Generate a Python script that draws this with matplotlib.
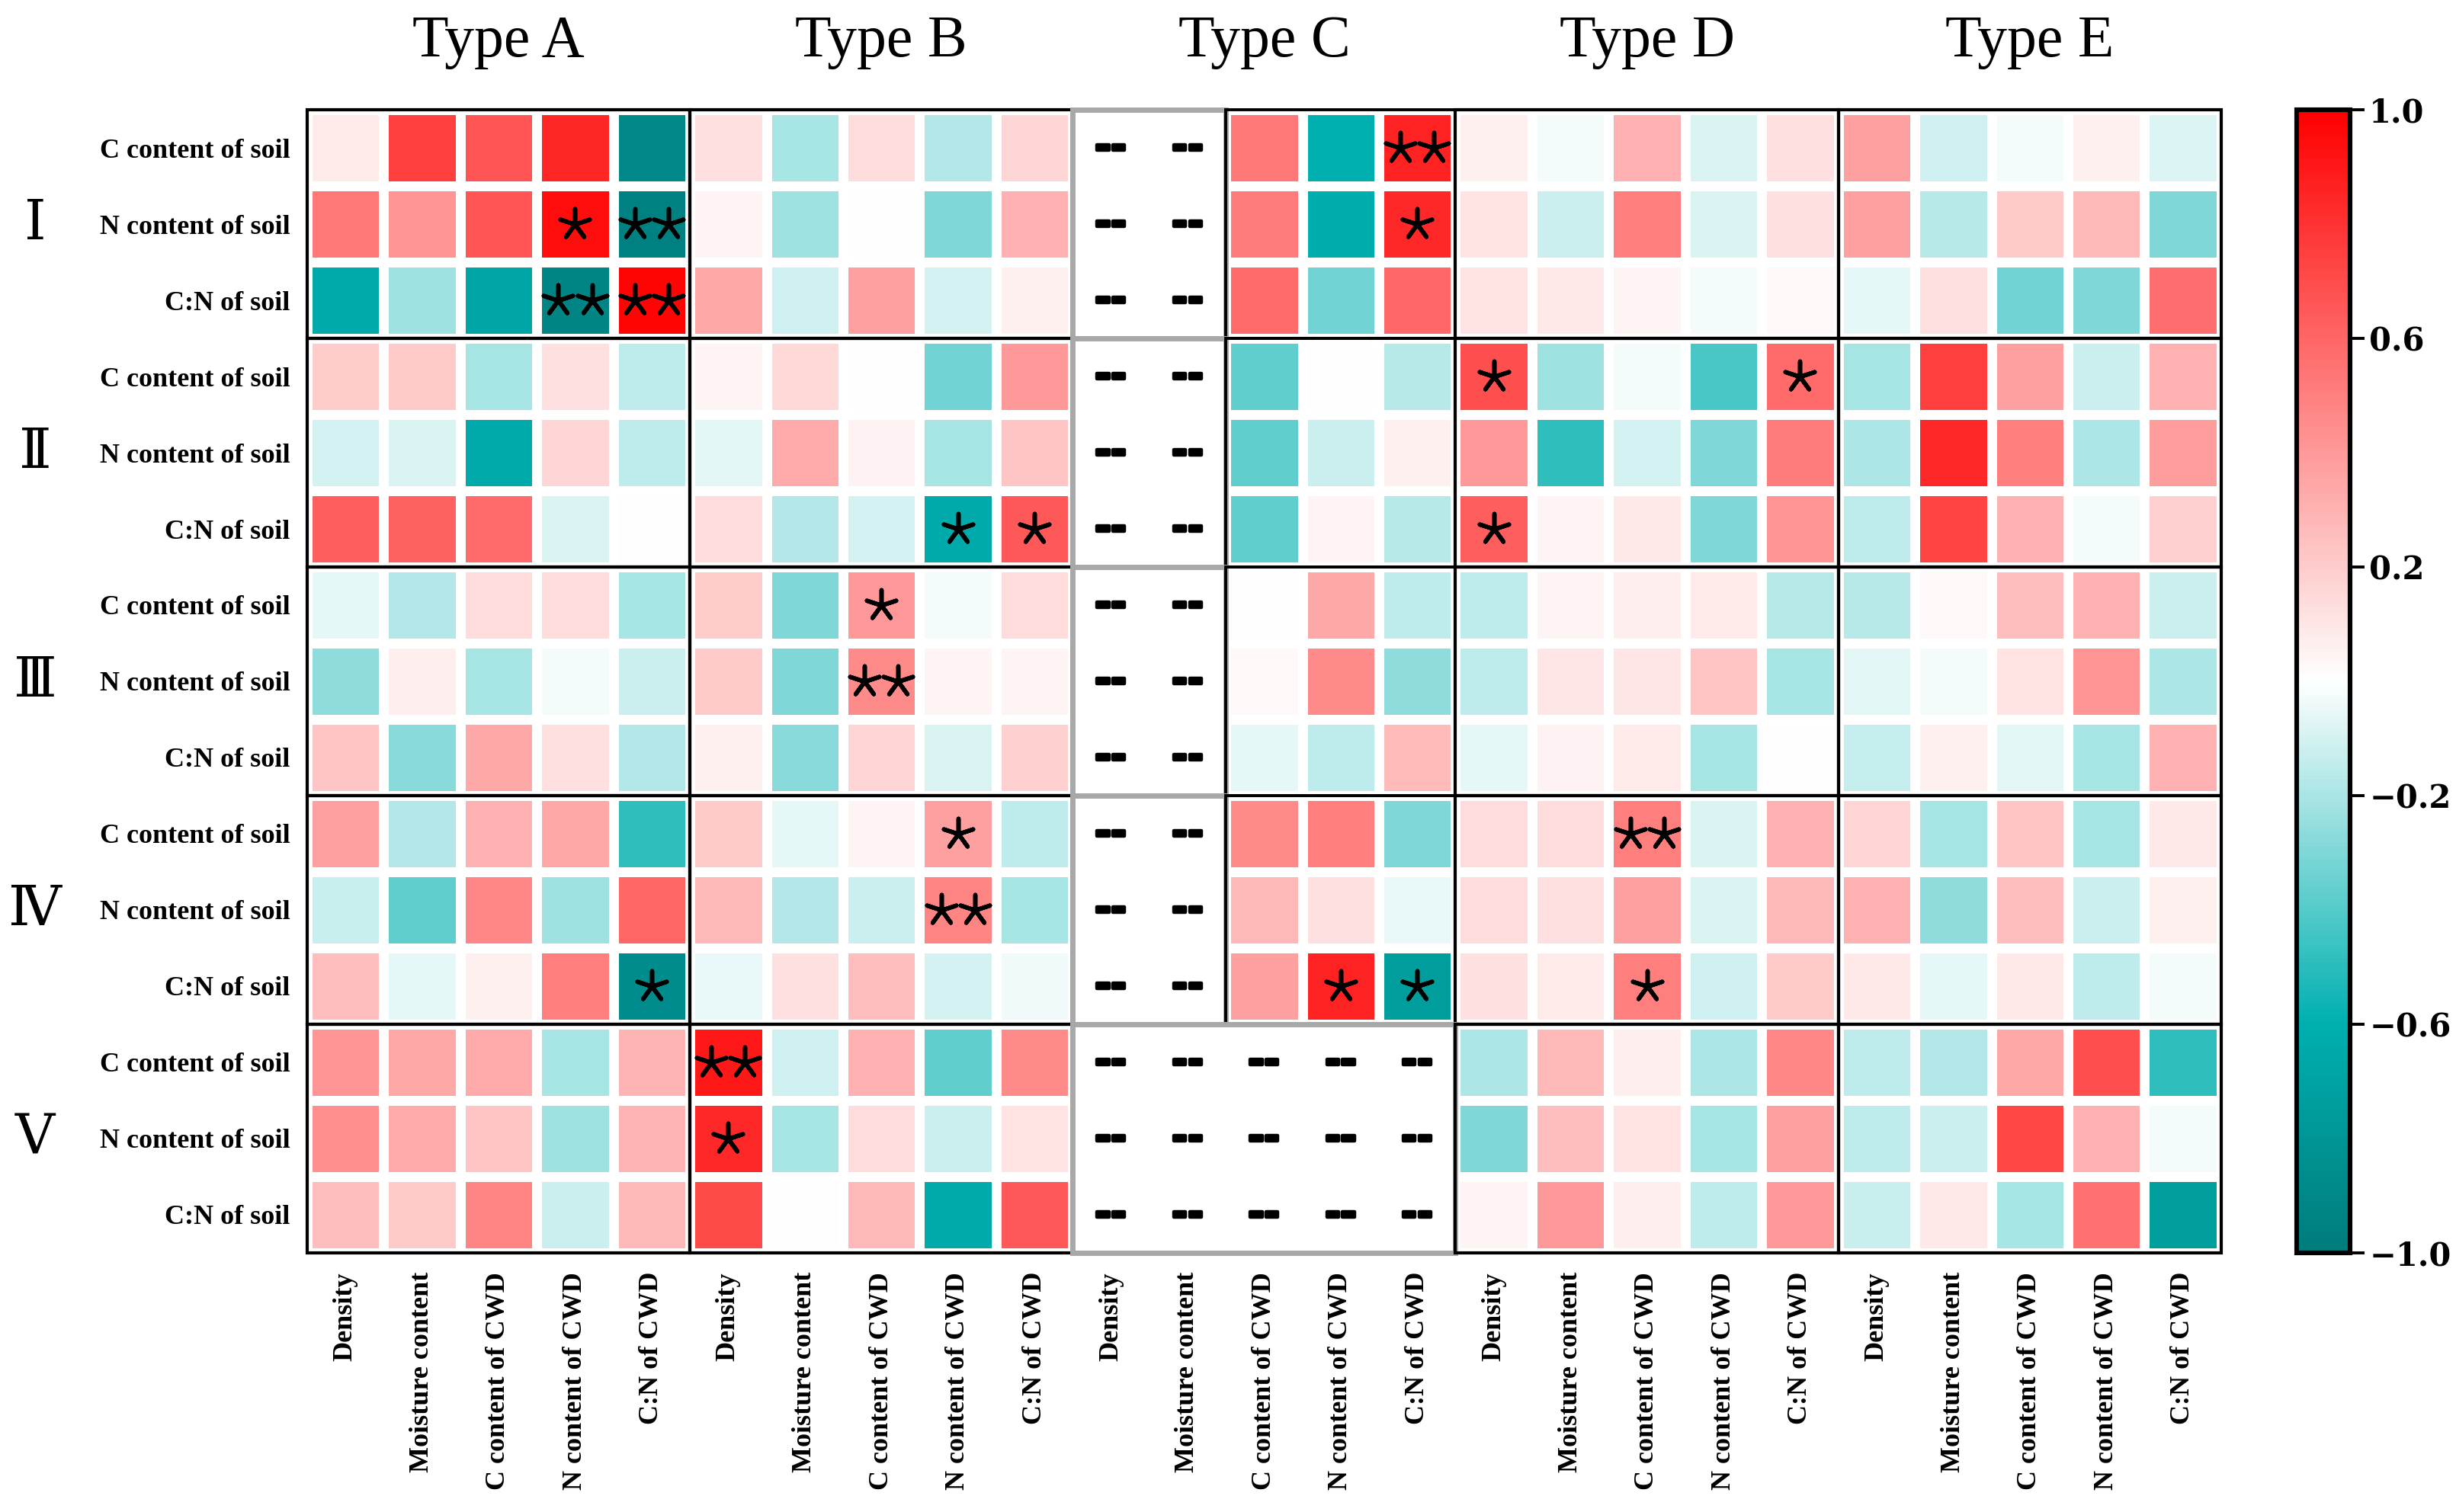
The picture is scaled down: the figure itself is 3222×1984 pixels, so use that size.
import numpy as np
import matplotlib
matplotlib.use("Agg")
import matplotlib.pyplot as plt
import matplotlib.patheffects as pe
from matplotlib.colors import LinearSegmentedColormap
from matplotlib.patches import Rectangle
from matplotlib.ticker import FuncFormatter

nan = np.nan

types = ["Type A", "Type B", "Type C", "Type D", "Type E"]
groups = ["Ⅰ", "Ⅱ", "Ⅲ", "Ⅳ", "Ⅴ"]
soil_rows = ["C content of soil", "N content of soil", "C:N of soil"]
cwd_cols = ["Density", "Moisture content", "C content of CWD",
            "N content of CWD", "C:N of CWD"]

# correlation coefficients, one block per group (rows = soil_rows,
# columns = Type A..E x cwd_cols), nan = not measured ("--")
group_I = [
    [0.08, 0.75, 0.67, 0.85, -0.90,  0.12, -0.205, 0.14, -0.175, 0.16,
     nan, nan, 0.53, -0.60, 0.86,  0.06, -0.03, 0.31, -0.09, 0.12,
     0.37, -0.11, -0.03, 0.06, -0.08],
    [0.53, 0.42, 0.67, 0.95, -0.96,  0.04, -0.23, 0.0, -0.30, 0.31,
     nan, nan, 0.51, -0.62, 0.84,  0.11, -0.12, 0.50, -0.09, 0.12,
     0.37, -0.17, 0.21, 0.28, -0.30],
    [-0.645, -0.23, -0.68, -0.93, 0.98,  0.34, -0.11, 0.37, -0.095, 0.06,
     nan, nan, 0.58, -0.335, 0.59,  0.11, 0.09, 0.04, -0.03, 0.03,
     -0.06, 0.12, -0.335, -0.30, 0.57],
]
group_II = [
    [0.20, 0.21, -0.205, 0.12, -0.155,  0.04, 0.15, 0.0, -0.335, 0.40,
     nan, nan, -0.375, 0.0, -0.17,  0.69, -0.23, -0.03, -0.425, 0.58,
     -0.205, 0.75, 0.37, -0.12, 0.31],
    [-0.10, -0.09, -0.645, 0.16, -0.155,  -0.07, 0.33, 0.05, -0.205, 0.23,
     nan, nan, -0.375, -0.12, 0.06,  0.40, -0.49, -0.10, -0.30, 0.51,
     -0.19, 0.84, 0.50, -0.19, 0.39],
    [0.63, 0.62, 0.58, -0.09, 0.0,  0.14, -0.175, -0.10, -0.645, 0.65,
     nan, nan, -0.375, 0.04, -0.17,  0.63, 0.04, 0.09, -0.30, 0.42,
     -0.155, 0.73, 0.31, -0.03, 0.18],
]
group_III = [
    [-0.055, -0.175, 0.14, 0.14, -0.205,  0.20, -0.30, 0.40, -0.03, 0.14,
     nan, nan, 0.0, 0.34, -0.15,  -0.15, 0.04, 0.07, 0.08, -0.17,
     -0.17, 0.03, 0.25, 0.31, -0.12],
    [-0.265, 0.07, -0.205, -0.03, -0.12,  0.21, -0.30, 0.46, 0.04, 0.04,
     nan, nan, 0.03, 0.46, -0.265,  -0.155, 0.10, 0.10, 0.23, -0.205,
     -0.07, -0.03, 0.11, 0.42, -0.19],
    [0.23, -0.28, 0.34, 0.12, -0.175,  0.06, -0.28, 0.17, -0.09, 0.18,
     nan, nan, -0.055, -0.15, 0.27,  -0.055, 0.05, 0.08, -0.205, 0.0,
     -0.14, 0.06, -0.07, -0.205, 0.31],
]
group_IV = [
    [0.37, -0.175, 0.31, 0.34, -0.49,  0.21, -0.055, 0.04, 0.37, -0.155,
     nan, nan, 0.46, 0.50, -0.30,  0.14, 0.14, 0.50, -0.09, 0.31,
     0.17, -0.205, 0.23, -0.205, 0.09],
    [-0.13, -0.375, 0.47, -0.23, 0.60,  0.28, -0.175, -0.12, 0.48, -0.205,
     nan, nan, 0.28, 0.12, -0.05,  0.14, 0.12, 0.37, -0.09, 0.28,
     0.31, -0.265, 0.25, -0.12, 0.06],
    [0.25, -0.055, 0.06, 0.50, -0.87,  -0.05, 0.12, 0.25, -0.10, -0.035,
     nan, nan, 0.37, 0.86, -0.75,  0.12, 0.08, 0.50, -0.11, 0.21,
     0.09, -0.055, 0.09, -0.155, -0.03],
]
group_V = [
    [0.42, 0.34, 0.33, -0.205, 0.29,  0.90, -0.11, 0.31, -0.375, 0.46,
     nan, nan, nan, nan, nan,  -0.19, 0.28, 0.07, -0.19, 0.47,
     -0.155, -0.175, 0.34, 0.69, -0.49],
    [0.44, 0.33, 0.23, -0.23, 0.29,  0.84, -0.205, 0.14, -0.12, 0.11,
     nan, nan, nan, nan, nan,  -0.30, 0.25, 0.11, -0.205, 0.37,
     -0.155, -0.12, 0.72, 0.31, -0.03],
    [0.25, 0.21, 0.48, -0.12, 0.28,  0.71, 0.0, 0.28, -0.645, 0.65,
     nan, nan, nan, nan, nan,  0.04, 0.40, 0.07, -0.15, 0.40,
     -0.13, 0.09, -0.205, 0.56, -0.75],
]

# significance: (group, soil row, column, mark)
sig_marks = [
    (0, 1, 3, "*"), (0, 1, 4, "**"), (0, 2, 3, "**"), (0, 2, 4, "**"),
    (0, 0, 14, "**"), (0, 1, 14, "*"),
    (1, 2, 8, "*"), (1, 2, 9, "*"),
    (1, 0, 15, "*"), (1, 0, 19, "*"), (1, 2, 15, "*"),
    (2, 0, 7, "*"), (2, 1, 7, "**"),
    (3, 2, 4, "*"), (3, 0, 8, "*"), (3, 1, 8, "**"),
    (3, 2, 13, "*"), (3, 2, 14, "*"),
    (3, 0, 17, "**"), (3, 2, 17, "*"),
    (4, 0, 5, "**"), (4, 1, 5, "*"),
]

data = np.array(group_I + group_II + group_III + group_IV + group_V)
n_rows, n_cols = data.shape

cmap = LinearSegmentedColormap.from_list(
    "tealred", [(0.0, "#007c7c"), (0.2, "#00b0b0"), (0.5, "#ffffff"),
                (1.0, "#ff0000")])

SERIF = ["Liberation Serif", "DejaVu Serif"]

fig = plt.figure(figsize=(16.115, 9.92), dpi=200)
ax = fig.add_axes([0.1250, 0.1714, 0.7791, 0.7560])

mesh = ax.pcolormesh(np.ma.masked_invalid(data), cmap=cmap, vmin=-1, vmax=1,
                     edgecolors="white", linewidth=4)
mesh.set_clip_on(False)
ax.set_xlim(0, n_cols)
ax.set_ylim(n_rows, 0)
for s in ax.spines.values():
    s.set_visible(False)

ax.set_xticks(np.arange(n_cols) + 0.5)
ax.set_xticklabels(cwd_cols * len(types), rotation=90, family=SERIF,
                   fontweight="bold", fontsize=13)
ax.set_yticks(np.arange(n_rows) + 0.5)
ax.set_yticklabels(soil_rows * len(groups), family=SERIF,
                   fontweight="bold", fontsize=13)
ax.tick_params(axis="both", length=0)
ax.tick_params(axis="x", pad=9)
ax.tick_params(axis="y", pad=8)

# "--" for missing values
for r in range(n_rows):
    for c in range(n_cols):
        if np.isnan(data[r, c]):
            ax.text(c + 0.5, r + 0.5, "--", ha="center", va="center",
                    fontsize=18, fontweight="bold", family="DejaVu Sans",
                    path_effects=[pe.withStroke(linewidth=1.6,
                                                foreground="black")])

# significance asterisks
for g, r, c, mark in sig_marks:
    y = g * 3 + r + 0.5
    xs = [c + 0.5] if mark == "*" else [c + 0.28, c + 0.72]
    ax.scatter(xs, [y] * len(xs), marker=(5, 2, 0), s=210, c="black",
               linewidths=2.0, zorder=5)

# block frames
for g in range(len(groups)):
    for t in range(len(types)):
        x0, y0 = t * 5, g * 3
        if types[t] == "Type C":
            if g == len(groups) - 1:
                boxes = [(x0, 5, "#a8a8a8", 2.5)]
            else:
                boxes = [(x0, 2, "#a8a8a8", 2.5), (x0 + 2, 3, "black", 1.4)]
        else:
            boxes = [(x0, 5, "black", 1.5)]
        for bx, bw, col, lw in boxes:
            ax.add_patch(Rectangle((bx, y0), bw, 3, fill=False, edgecolor=col,
                                   linewidth=lw, zorder=6, clip_on=False))

# titles and group numerals
for t, name in enumerate(types):
    ax.text(t * 5 + 2.5, 1.059, name, transform=ax.get_xaxis_transform(),
            ha="center", va="center", fontsize=28, family=SERIF)
for g, name in enumerate(groups):
    ax.text(-0.142, g * 3 + 1.5, name, transform=ax.get_yaxis_transform(),
            ha="center", va="center", fontsize=26, family=["DejaVu Serif"])

cax = fig.add_axes([0.9349, 0.1714, 0.0217, 0.7560])
cb = fig.colorbar(mesh, cax=cax, ticks=[1.0, 0.6, 0.2, -0.2, -0.6, -1.0])
cb.ax.yaxis.set_major_formatter(
    FuncFormatter(lambda v, p: f"{v:.1f}".replace("-", "\u2212")))
cb.outline.set_linewidth(2.2)
cb.ax.tick_params(length=7, width=1.4, pad=2)
for lab in cb.ax.get_yticklabels():
    lab.set_family("DejaVu Serif")
    lab.set_fontweight("bold")
    lab.set_fontsize(15)

fig.savefig("out.png", dpi=200)
